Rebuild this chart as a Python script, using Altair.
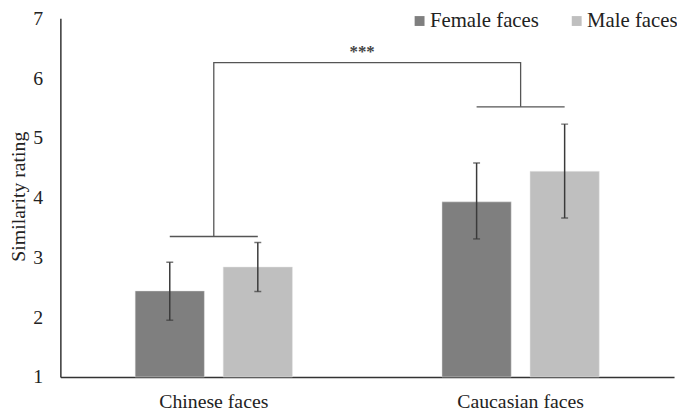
import altair as alt
import pandas as pd

categories = ["Chinese faces", "Caucasian faces"]
series = ["Female faces", "Male faces"]
female_mean = [2.44, 3.93]
male_mean = [2.84, 4.44]
female_low = [1.95, 3.31]
female_high = [2.92, 4.58]
male_low = [2.43, 3.66]
male_high = [3.25, 5.23]
bracket_low = [3.35, 5.52]
bracket_top = 6.26
sig_label = "***"
y_ticks = [1, 2, 3, 4, 5, 6, 7]
colors = ["#7f7f7f", "#bfbfbf"]

rows = []
for i, c in enumerate(categories):
    rows.append({"cat": c, "ser": series[0], "mean": female_mean[i], "lo": female_low[i], "hi": female_high[i]})
    rows.append({"cat": c, "ser": series[1], "mean": male_mean[i], "lo": male_low[i], "hi": male_high[i]})
df = pd.DataFrame(rows)

low_rows = []
for i, c in enumerate(categories):
    for s in series:
        low_rows.append({"cat": c, "ser": s, "y": bracket_low[i], "grp": c})
df_low = pd.DataFrame(low_rows)

df_top = pd.DataFrame([
    {"cat": categories[0], "y": bracket_low[0], "o": 0},
    {"cat": categories[0], "y": bracket_top, "o": 1},
    {"cat": categories[1], "y": bracket_top, "o": 2},
    {"cat": categories[1], "y": bracket_low[1], "o": 3},
])
df_txt = pd.DataFrame([{"cat": categories[0], "y": bracket_top, "t": sig_label}])

FONT = "Liberation Serif, Times New Roman, serif"

xscale = alt.Scale(domain=categories, paddingInner=0.426, paddingOuter=0.213)
xoff = alt.XOffset("ser:N", scale=alt.Scale(domain=series, paddingInner=0.2135, paddingOuter=0.107))
yscale = alt.Scale(domain=[1, 7], nice=False, zero=False)

X = alt.X("cat:N", scale=xscale, sort=categories,
          axis=alt.Axis(title=None, labelAngle=0, ticks=False, labelFontSize=20, labelFont=FONT,
                        labelColor="#222", labelPadding=15, domainColor="#333", domainWidth=1.5))

bars = alt.Chart(df).mark_bar(stroke="#e6e6e6", strokeWidth=0.5).encode(
    x=X,
    xOffset=xoff,
    y=alt.Y("mean:Q", scale=yscale,
            axis=alt.Axis(title="Similarity rating", values=y_ticks, format="d", ticks=False, grid=False,
                          labelFontSize=20, labelFont=FONT, labelColor="#222", labelPadding=18,
                          titleFont=FONT, titleFontSize=20, titleFontWeight="normal", titleColor="#222",
                          titleX=-32, titleY=180, titleAngle=270, titleAlign="center",
                          titleBaseline="bottom", domainColor="#333", domainWidth=1.5)),
    y2=alt.datum(1),
    color=alt.Color("ser:N", scale=alt.Scale(domain=series, range=colors),
                    legend=alt.Legend(title=None, orient="none", direction="horizontal",
                                      legendX=353, legendY=-8, symbolType="square", symbolSize=100,
                                      symbolStrokeWidth=0, labelFont=FONT, labelFontSize=21,
                                      labelColor="#222", columnPadding=27, labelOffset=0)),
)

err = alt.Chart(df).mark_rule(color="#3a3a3a", strokeWidth=1.5).encode(
    x=alt.X("cat:N", scale=xscale, sort=categories), xOffset=xoff,
    y=alt.Y("lo:Q", scale=yscale), y2="hi:Q")
cap_lo = alt.Chart(df).mark_tick(color="#3a3a3a", size=7, thickness=1.5).encode(
    x=alt.X("cat:N", scale=xscale, sort=categories), xOffset=xoff, y=alt.Y("lo:Q", scale=yscale))
cap_hi = alt.Chart(df).mark_tick(color="#3a3a3a", size=7, thickness=1.5).encode(
    x=alt.X("cat:N", scale=xscale, sort=categories), xOffset=xoff, y=alt.Y("hi:Q", scale=yscale))

low_lines = alt.Chart(df_low).mark_line(color="#555", strokeWidth=1.3).encode(
    x=alt.X("cat:N", scale=xscale, sort=categories), xOffset=xoff,
    y=alt.Y("y:Q", scale=yscale), detail="grp:N")

top_line = alt.Chart(df_top).mark_line(color="#555", strokeWidth=1.3).encode(
    x=alt.X("cat:N", scale=xscale, sort=categories),
    y=alt.Y("y:Q", scale=yscale), order="o:Q")

stars = alt.Chart(df_txt).mark_text(font=FONT, fontSize=17, fontWeight="bold", color="#444",
                                     baseline="bottom", dx=61, dy=-2).encode(
    x=alt.X("cat:N", scale=xscale, sort=categories, bandPosition=1),
    y=alt.Y("y:Q", scale=yscale), text="t:N")

chart = alt.layer(bars, err, cap_lo, cap_hi, low_lines, top_line, stars).properties(
    width=621, height=363,
    autosize=alt.AutoSizeParams(type="none"),
    padding={"left": 53, "top": 8, "right": 3, "bottom": 34},
).configure_view(stroke=None).configure_axis(grid=False)

chart.save("out.html", embed_options={"renderer": "svg", "actions": False})
